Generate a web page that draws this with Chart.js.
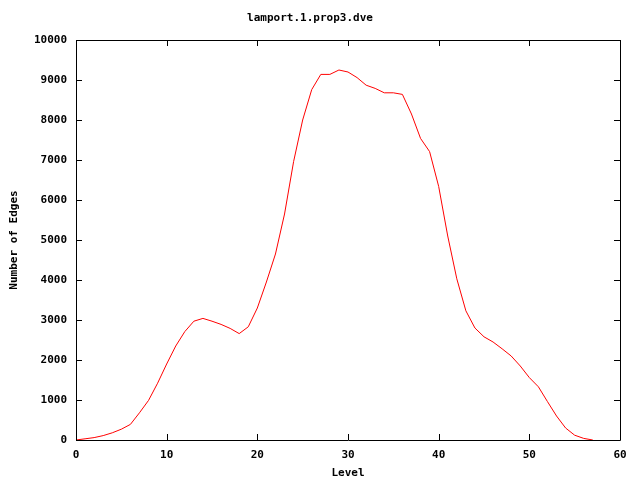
<!DOCTYPE html>
<html>
<head>
<meta charset="utf-8">
<script src="https://cdn.jsdelivr.net/npm/chart.js@4.4.0/dist/chart.umd.min.js"></script>
<style>
  html, body { margin: 0; padding: 0; background: #fff; }
  #c { display: block; }
</style>
</head>
<body>
<canvas id="c" width="640" height="480"></canvas>
<script>
// Données (niveau -> nombre d'arêtes)
const levels = [];
for (let i = 0; i <= 57; i++) levels.push(i);
const edges = [
  0, 30, 60, 110, 180, 270, 390, 680, 990, 1420,
  1900, 2350, 2710, 2970, 3040, 2970, 2890, 2790, 2660, 2830,
  3300, 3950, 4650, 5650, 6960, 8000, 8760, 9140, 9140, 9250,
  9200, 9060, 8870, 8790, 8680, 8680, 8640, 8150, 7540, 7210,
  6340, 5100, 4030, 3230, 2800, 2580, 2450, 2280, 2100, 1850,
  1560, 1330, 960, 600, 300, 120, 40, 0
];
const xTicks = [0, 10, 20, 30, 40, 50, 60];
const yTicks = [0, 1000, 2000, 3000, 4000, 5000, 6000, 7000, 8000, 9000, 10000];

const fontFamily = '"DejaVu Sans Mono", "Liberation Mono", monospace';

// Cadre et graduations vers l'intérieur, façon gnuplot
const framePlugin = {
  id: 'frame',
  afterDraw(chart) {
    const ctx = chart.ctx;
    const a = chart.chartArea;
    const xs = chart.scales.x, ys = chart.scales.y;
    const len = 6;
    ctx.save();
    ctx.strokeStyle = '#000';
    ctx.lineWidth = 1;
    ctx.beginPath();
    ctx.rect(Math.round(a.left) + 0.5, Math.round(a.top) + 0.5,
             Math.round(a.right - a.left), Math.round(a.bottom - a.top));
    xTicks.forEach(v => {
      const px = Math.round(xs.getPixelForValue(v)) + 0.5;
      ctx.moveTo(px, a.bottom);
      ctx.lineTo(px, a.bottom - len);
      ctx.moveTo(px, a.top);
      ctx.lineTo(px, a.top + len);
    });
    yTicks.forEach(v => {
      const py = Math.round(ys.getPixelForValue(v)) + 0.5;
      ctx.moveTo(a.left, py);
      ctx.lineTo(a.left + len, py);
      ctx.moveTo(a.right, py);
      ctx.lineTo(a.right - len, py);
    });
    ctx.stroke();
    ctx.restore();
  }
};

const ctx = document.getElementById('c').getContext('2d');
const chart = new Chart(ctx, {
  type: 'line',
  data: {
    labels: levels,
    datasets: [{
      data: levels.map((l, i) => ({ x: l, y: edges[i] })),
      borderColor: 'rgb(255, 0, 0)',
      borderWidth: 1,
      pointRadius: 0,
      fill: false,
      tension: 0
    }]
  },
  options: {
    responsive: false,
    animation: false,
    devicePixelRatio: 1,
    layout: { padding: { left: 0, right: 20, top: 0, bottom: 0 } },
    plugins: {
      legend: { display: false },
      tooltip: { enabled: false },
      title: {
        display: true,
        text: 'lamport.1.prop3.dve',
        color: '#000',
        font: { family: fontFamily, size: 11, weight: 'bold' },
        padding: { top: 12, bottom: 14.8 }
      }
    },
    scales: {
      x: {
        type: 'linear',
        min: 0,
        max: 60,
        afterBuildTicks: s => { s.ticks = xTicks.map(v => ({ value: v })); },
        afterFit: s => { s.height = 40; },
        grid: { display: false, drawTicks: false },
        border: { display: false },
        ticks: {
          color: '#000',
          padding: 9,
          callback: v => String(v),
          font: { family: fontFamily, size: 11, weight: 'bold' }
        },
        title: {
          display: true,
          text: 'Level',
          color: '#000',
          padding: { top: 4, bottom: 0 },
          font: { family: fontFamily, size: 11, weight: 'bold' }
        }
      },
      y: {
        min: 0,
        max: 10000,
        afterBuildTicks: s => { s.ticks = yTicks.map(v => ({ value: v })); },
        afterFit: s => { s.width = 76; },
        grid: { display: false, drawTicks: false },
        border: { display: false },
        ticks: {
          color: '#000',
          padding: 9,
          callback: v => String(v),
          font: { family: fontFamily, size: 11, weight: 'bold' }
        },
        title: {
          display: true,
          text: 'Number of Edges',
          color: '#000',
          padding: { top: 8, bottom: 0 },
          font: { family: fontFamily, size: 11, weight: 'bold' }
        }
      }
    }
  },
  plugins: [framePlugin]
});
</script>
</body>
</html>
